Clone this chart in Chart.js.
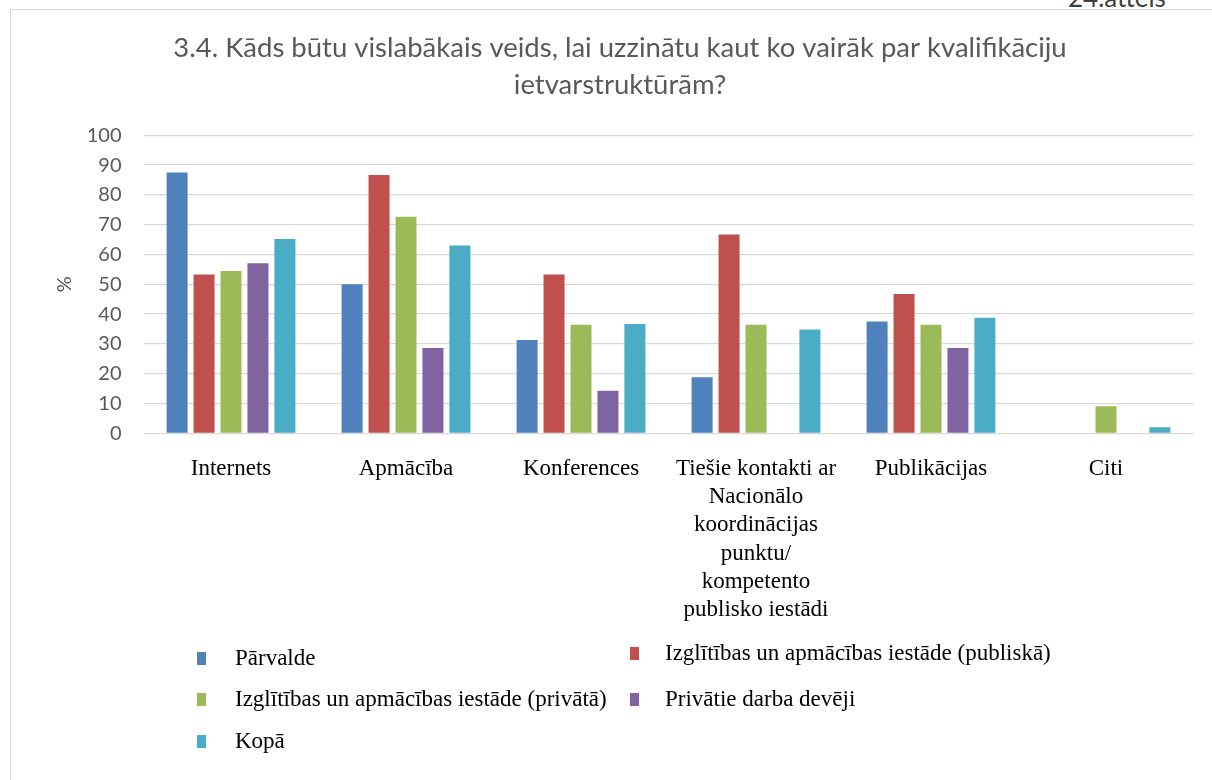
<!DOCTYPE html>
<html>
<head>
<meta charset="utf-8">
<script src="https://cdn.jsdelivr.net/npm/chart.js@4.4.1/dist/chart.umd.min.js"></script>
<style>
    body { margin: 0; background: #fff; width: 1212px; height: 780px; overflow: hidden; position: relative; }
    #frame { position: absolute; left: 10px; top: 9px; right: -5px; bottom: -5px; border-left: 1.5px solid #d9d9d9; border-top: 1.5px solid #d9d9d9; }
    #fig-no { position: absolute; left: 1068px; top: -19px; font: 26px Lato, sans-serif; color: #404040; }
    canvas { position: absolute; left: 0; top: 0; }
    .leg { position: absolute; font: 23px "Liberation Serif", serif; color: #000; white-space: nowrap; }
    .leg i { position: absolute; width: 9px; height: 13px; }
</style>
</head>
<body>
<div id="frame"></div>
<div id="fig-no">24.attēls</div>
<canvas id="chart" width="1212" height="780"></canvas>
<div id="legend"></div>
<script>
const categories = [
    'Internets',
    'Apmācība',
    'Konferences',
    ['Tiešie kontakti ar', 'Nacionālo', 'koordinācijas', 'punktu/', 'kompetento', 'publisko iestādi'],
    'Publikācijas',
    'Citi'
];

const seriesNames = [
    'Pārvalde',
    'Izglītības un apmācības iestāde (publiskā)',
    'Izglītības un apmācības iestāde (privātā)',
    'Privātie darba devēji',
    'Kopā'
];

const parvalde = [87.5, 50.0, 31.3, 18.8, 37.5, 0];
const publiska = [53.3, 86.7, 53.3, 66.7, 46.7, 0];
const privata = [54.5, 72.7, 36.4, 36.4, 36.4, 9.1];
const darbaDeveji = [57.1, 28.6, 14.3, 0, 28.6, 0];
const kopa = [65.2, 63.0, 36.7, 34.8, 38.8, 2.0];

const yTicks = [0, 10, 20, 30, 40, 50, 60, 70, 80, 90, 100];

const colors = ['#4F81BD', '#C0504D', '#9BBB59', '#8064A2', '#4BACC6'];
const seriesValues = [parvalde, publiska, privata, darbaDeveji, kopa];

const titleLines = [
    '3.4. Kāds būtu vislabākais veids, lai uzzinātu kaut ko vairāk par kvalifikāciju',
    'ietvarstruktūrām?'
];

new Chart(document.getElementById('chart'), {
    type: 'bar',
    data: {
        labels: categories,
        datasets: seriesValues.map((vals, i) => ({
            label: seriesNames[i],
            data: vals,
            backgroundColor: colors[i],
            borderWidth: 0,
            categoryPercentage: 0.77,
            barPercentage: 0.78
        }))
    },
    options: {
        responsive: false,
        animation: false,
        layout: { padding: { left: 46.5, right: 18.5, top: 0, bottom: 0 } },
        plugins: {
            legend: { display: false },
            tooltip: { enabled: false },
            title: {
                display: true,
                text: titleLines,
                color: '#595959',
                font: { family: 'Lato', size: 27.5, weight: 'normal', lineHeight: 1.345 },
                padding: { top: 29.5, bottom: 31.8 }
            }
        },
        scales: {
            x: {
                grid: { display: false },
                border: { display: false },
                ticks: {
                    color: '#000',
                    padding: 14,
                    maxRotation: 0,
                    autoSkip: false,
                    font: { family: 'Liberation Serif', size: 23, lineHeight: 1.22 }
                },
                afterFit: s => { s.height = 780 - 433.3; }
            },
            y: {
                min: 0,
                max: 100,
                afterBuildTicks: s => { s.ticks = yTicks.map(v => ({ value: v })); },
                grid: { color: '#d9d9d9', lineWidth: 1.3, drawTicks: false },
                border: { display: false },
                ticks: {
                    color: '#595959',
                    padding: 22,
                    font: { family: 'Lato', size: 20 }
                },
                title: {
                    display: true,
                    text: '%',
                    color: '#595959',
                    font: { family: 'Lato', size: 20 },
                    padding: { top: 6, bottom: 0 }
                },
                afterFit: s => { s.width = 97; }
            }
        }
    }
});

// legend laid out like the original: two columns, three rows
const legendSlots = [
    { x: 197, y: 658 },
    { x: 630, y: 653 },
    { x: 197, y: 699 },
    { x: 630, y: 699 },
    { x: 197, y: 741 }
];
document.getElementById('legend').innerHTML = seriesNames.map((name, i) => `
    <div class="leg" style="left:${legendSlots[i].x}px; top:${legendSlots[i].y - 14}px; height:28px; line-height:28px;">
        <i style="left:0; top:8px; background:${colors[i]};"></i>
        <span style="margin-left:${i % 2 === 1 ? 35 : 38}px;">${name}</span>
    </div>
`).join('');
</script>
</body>
</html>
